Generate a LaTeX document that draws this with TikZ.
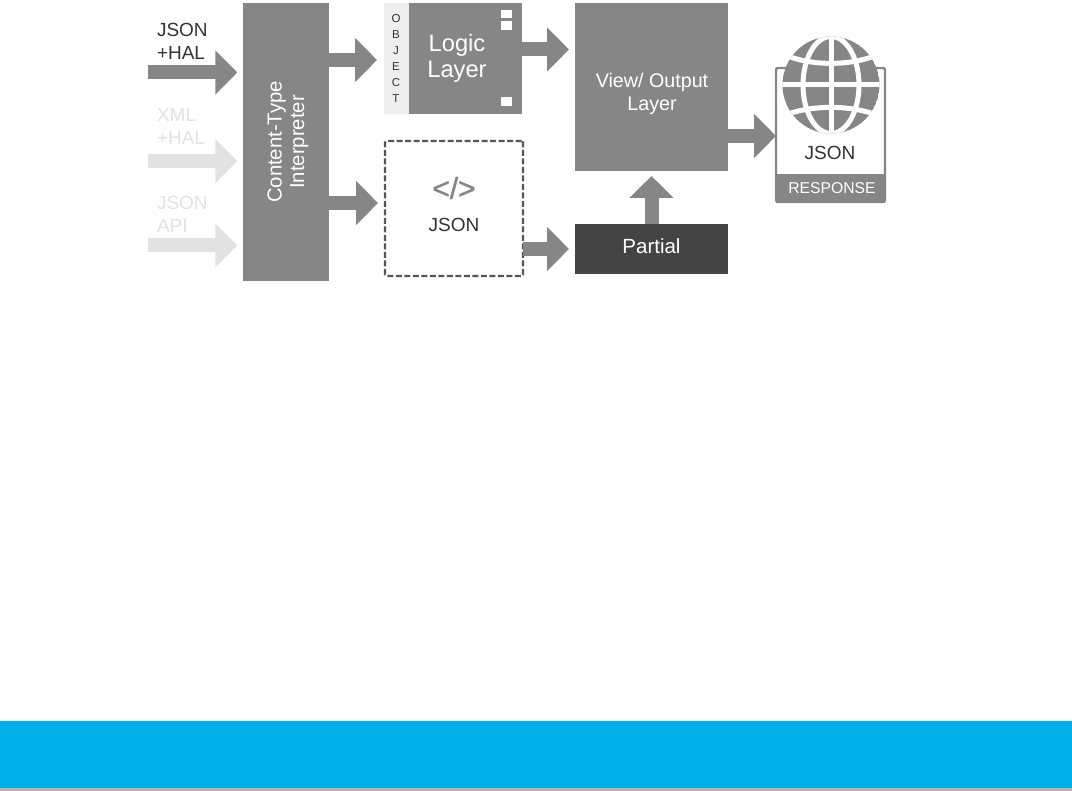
\documentclass[tikz,border=0pt]{standalone}
\usepackage{fontspec}
\setmainfont{Liberation Sans}
\usetikzlibrary{arrows.meta}
\definecolor{boxgrey}{HTML}{868686}
\definecolor{fadegrey}{HTML}{E2E2E2}
\definecolor{strip}{HTML}{EEEEEE}
\definecolor{darkbox}{HTML}{444444}
\definecolor{inktext}{HTML}{333333}
\definecolor{dashgrey}{HTML}{555555}
\definecolor{band}{HTML}{00AEE8}
\definecolor{bandshadow}{HTML}{B4B4B4}
\tikzset{
  x=1pt,y=-1pt,
  fs/.style={font=\fontsize{#1}{1.2em}\selectfont},
  plainbox/.style={rectangle,inner sep=0pt,outer sep=0pt},
  greybox/.style={plainbox,fill=boxgrey,text=white},
  txt/.style={inner sep=0pt,outer sep=0pt},
  barrow/.style={draw=boxgrey,line width=14pt,-{Triangle[length=22pt,width=43pt,color=boxgrey]}},
  farrow/.style={barrow,draw=fadegrey,-{Triangle[length=22pt,width=43pt,color=fadegrey]}},
  hole/.style={plainbox,fill=white,minimum width=11pt},
}
\begin{document}
\begin{tikzpicture}
\useasboundingbox (0,0) rectangle (1072,791);
% footer band
\fill[bandshadow] (0,786) rectangle (1072,791);
\fill[band] (0,721) rectangle (1072,788);
% boxes
\node[greybox,minimum width=86pt,minimum height=278pt] (cti) at (286.3,142) {};
\node[txt,text=white,rotate=90,align=center,font=\fontsize{20.3}{22.5}\selectfont] (ctitxt) at (288,142) {Content-Type\\Interpreter};
\node[plainbox,fill=strip,minimum width=25pt,minimum height=111pt] (objstrip) at (396.5,58.5) {};
\node[greybox,minimum width=113pt,minimum height=111pt] (logic) at (465.5,58.5) {};
\node[txt,text=white,align=center,font=\fontsize{23.7}{26}\selectfont] (logictxt) at (457,58) {Logic\\Layer};
\node[txt,text=inktext,fs=11.5] (o1) at (396,19) {O};
\node[txt,text=inktext,fs=11.5] (o2) at (396,34.7) {B};
\node[txt,text=inktext,fs=11.5] (o3) at (396,50.5) {J};
\node[txt,text=inktext,fs=11.5] (o4) at (396,67) {E};
\node[txt,text=inktext,fs=11.5] (o5) at (396,83) {C};
\node[txt,text=inktext,fs=11.5] (o6) at (396,98.7) {T};
\node[hole,minimum height=8pt] (h1) at (506.5,14.5) {};
\node[hole,minimum height=9pt] (h2) at (506.5,25.5) {};
\node[hole,minimum height=9pt] (h3) at (506.5,101.5) {};
\node[plainbox,draw=dashgrey,line width=2.2pt,dash pattern=on 6pt off 2.5pt,rounded corners=1.5pt,fill=white,minimum width=138pt,minimum height=135pt] (jsonbox) at (454,208.5) {};
\node[txt,text=boxgrey,font=\fontsize{30}{34}\selectfont\addfontfeature{FakeBold=1.2}] (code) at (454,188) {</>};
\node[txt,text=inktext,fs=19] (jsontxt) at (454,225) {JSON};
\node[greybox,minimum width=153pt,minimum height=168pt] (view) at (651.5,87) {};
\node[txt,text=white,align=center,font=\fontsize{19.7}{23}\selectfont] (viewtxt) at (652,94) {View/ Output\\Layer};
\node[plainbox,fill=darkbox,minimum width=153pt,minimum height=50pt] (partial) at (651.5,249) {};
\node[txt,text=white,fs=20.5] (partialtxt) at (651.5,246) {Partial};
% response card
\node[plainbox,draw=boxgrey,line width=2.4pt,rounded corners=2pt,fill=white,minimum width=109pt,minimum height=134pt] (resp) at (830.5,135) {};
\node[plainbox,fill=boxgrey,minimum width=109pt,minimum height=29pt] (respband) at (830.5,188.5) {};
\node[txt,text=white,fs=15.7] (resptxt) at (832,188) {RESPONSE};
\node[txt,text=inktext,fs=19] (respjson) at (830,153) {JSON};
% globe
\begin{scope}
\clip (831,85) circle [radius=48.5];
\fill[boxgrey] (831,85) circle [radius=48.5];
\begin{scope}[draw=white,line width=5pt]
\draw (780,85) -- (882,85);
\draw (831,34) -- (831,136);
\draw (831,85) ellipse [x radius=28,y radius=48.5];
\draw (783,54) .. controls (810,66.5) and (852,66.5) .. (879,54);
\draw (783,116) .. controls (810,104.5) and (852,104.5) .. (879,116);
\end{scope}
\end{scope}
% input labels
\node[txt,anchor=west,align=left,text=inktext,font=\fontsize{19}{23}\selectfont] (l1) at (157,41.5) {JSON\\+HAL};
\node[txt,anchor=west,align=left,text=fadegrey,font=\fontsize{19}{23}\selectfont] (l2) at (157,126) {XML\\+HAL};
\node[txt,anchor=west,align=left,text=fadegrey,font=\fontsize{19}{23}\selectfont] (l3) at (157,214.5) {JSON\\API};
% input arrow tails
\coordinate (in1) at (148,72.5);
\coordinate (in2) at (148,161);
\coordinate (in3) at (148,245.5);
\draw[barrow,shorten >=6pt] (in1) -- (in1 -| cti.west);
\draw[farrow,shorten >=6pt] (in2) -- (in2 -| cti.west);
\draw[farrow,shorten >=6pt] (in3) -- (in3 -| cti.west);
% connectors
\draw[barrow,shorten >=7pt] (cti.east |- 0,60) -- (objstrip.west |- 0,60);
\draw[barrow,shorten >=7pt] (cti.east |- 0,203) -- (jsonbox.west |- 0,203);
\draw[barrow,shorten >=6pt] (logic.east |- 0,49.5) -- (view.west |- 0,49.5);
\draw[barrow,shorten >=6pt] (jsonbox.east |- 0,249) -- (partial.west);
\draw[barrow,shorten >=5pt] (partial.north) -- (view.south);
\draw[barrow] (view.east |- 0,136) -- (resp.west |- 0,136);
\end{tikzpicture}
\end{document}
